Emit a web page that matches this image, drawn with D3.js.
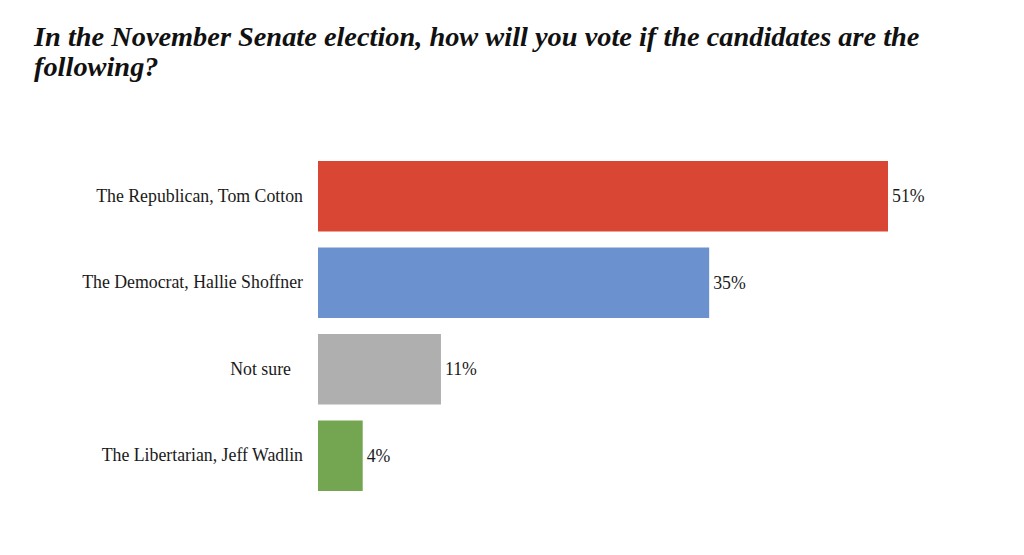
<!DOCTYPE html>
<html>
<head>
<meta charset="utf-8">
<script src="https://cdn.jsdelivr.net/npm/d3@7"></script>
<style>
  html, body { margin: 0; padding: 0; background: #fff; }
  svg { display: block; }
</style>
</head>
<body>
<svg id="chart" width="1024" height="555"></svg>
<script>
// ---- data ----
const titleLines = [
  "In the November Senate election, how will you vote if the candidates are the",
  "following?"
];
const categories = [
  "The Republican, Tom Cotton",
  "The Democrat, Hallie Shoffner",
  "Not sure",
  "The Libertarian, Jeff Wadlin"
];
const values = [51, 35, 11, 4];
const valueLabels = ["51%", "35%", "11%", "4%"];
const barColors = ["#D94633", "#6B92CE", "#AFAFAF", "#74A550"];

// ---- chart ----
const svg = d3.select("#chart");
const W = 1024, H = 555;
svg.append("rect").attr("width", W).attr("height", H).attr("fill", "#fff");

const serif = "'Liberation Serif', 'DejaVu Serif', serif";

// title, fitted to the reference width
const title = svg.append("g");
const t1 = title.append("text")
  .attr("x", 34).attr("y", 46)
  .attr("font-family", serif)
  .attr("font-weight", "bold").attr("font-style", "italic")
  .attr("font-size", 20).attr("fill", "#111")
  .text(titleLines[0]);
const w1 = t1.node().getComputedTextLength();
const titleSize = 20 * 886 / w1;
t1.attr("font-size", titleSize);
title.append("text")
  .attr("x", 34).attr("y", 76)
  .attr("font-family", serif)
  .attr("font-weight", "bold").attr("font-style", "italic")
  .attr("font-size", titleSize).attr("fill", "#111")
  .text(titleLines[1]);

const x = d3.scaleLinear()
  .domain([0, d3.max(values)])
  .range([318, 888]);

const y = d3.scaleBand()
  .domain(categories)
  .range([161, 491])
  .paddingInner(0.185)
  .paddingOuter(0);

const data = categories.map((c, i) => ({ c, v: values[i], lab: valueLabels[i], col: barColors[i] }));

svg.append("g").selectAll("rect")
  .data(data).join("rect")
  .attr("x", x(0))
  .attr("y", d => y(d.c))
  .attr("width", d => x(d.v) - x(0))
  .attr("height", y.bandwidth())
  .attr("fill", d => d.col);

// category labels (font size fitted to reference label width)
const labG = svg.append("g");
const probe = labG.append("text")
  .attr("font-family", serif).attr("font-size", 14)
  .text(categories[0]);
const labSize = 14 * 207 / probe.node().getComputedTextLength();
probe.remove();

const yAxis = d3.axisLeft(y).tickSize(0).tickPadding(0);
const axisG = svg.append("g")
  .attr("transform", "translate(303,0)")
  .call(yAxis);
axisG.select(".domain").remove();
axisG.selectAll("text")
  .attr("font-family", serif)
  .attr("font-size", labSize)
  .attr("fill", "#1a1a1a")
  .attr("dx", d => d === "Not sure" ? -12 : 0);

// value labels
svg.append("g").selectAll("text")
  .data(data).join("text")
  .attr("x", d => x(d.v) + 4)
  .attr("y", d => y(d.c) + y.bandwidth() / 2)
  .attr("dy", "0.35em")
  .attr("font-family", serif)
  .attr("font-size", labSize)
  .attr("fill", "#1a1a1a")
  .text(d => d.lab);
</script>
</body>
</html>
